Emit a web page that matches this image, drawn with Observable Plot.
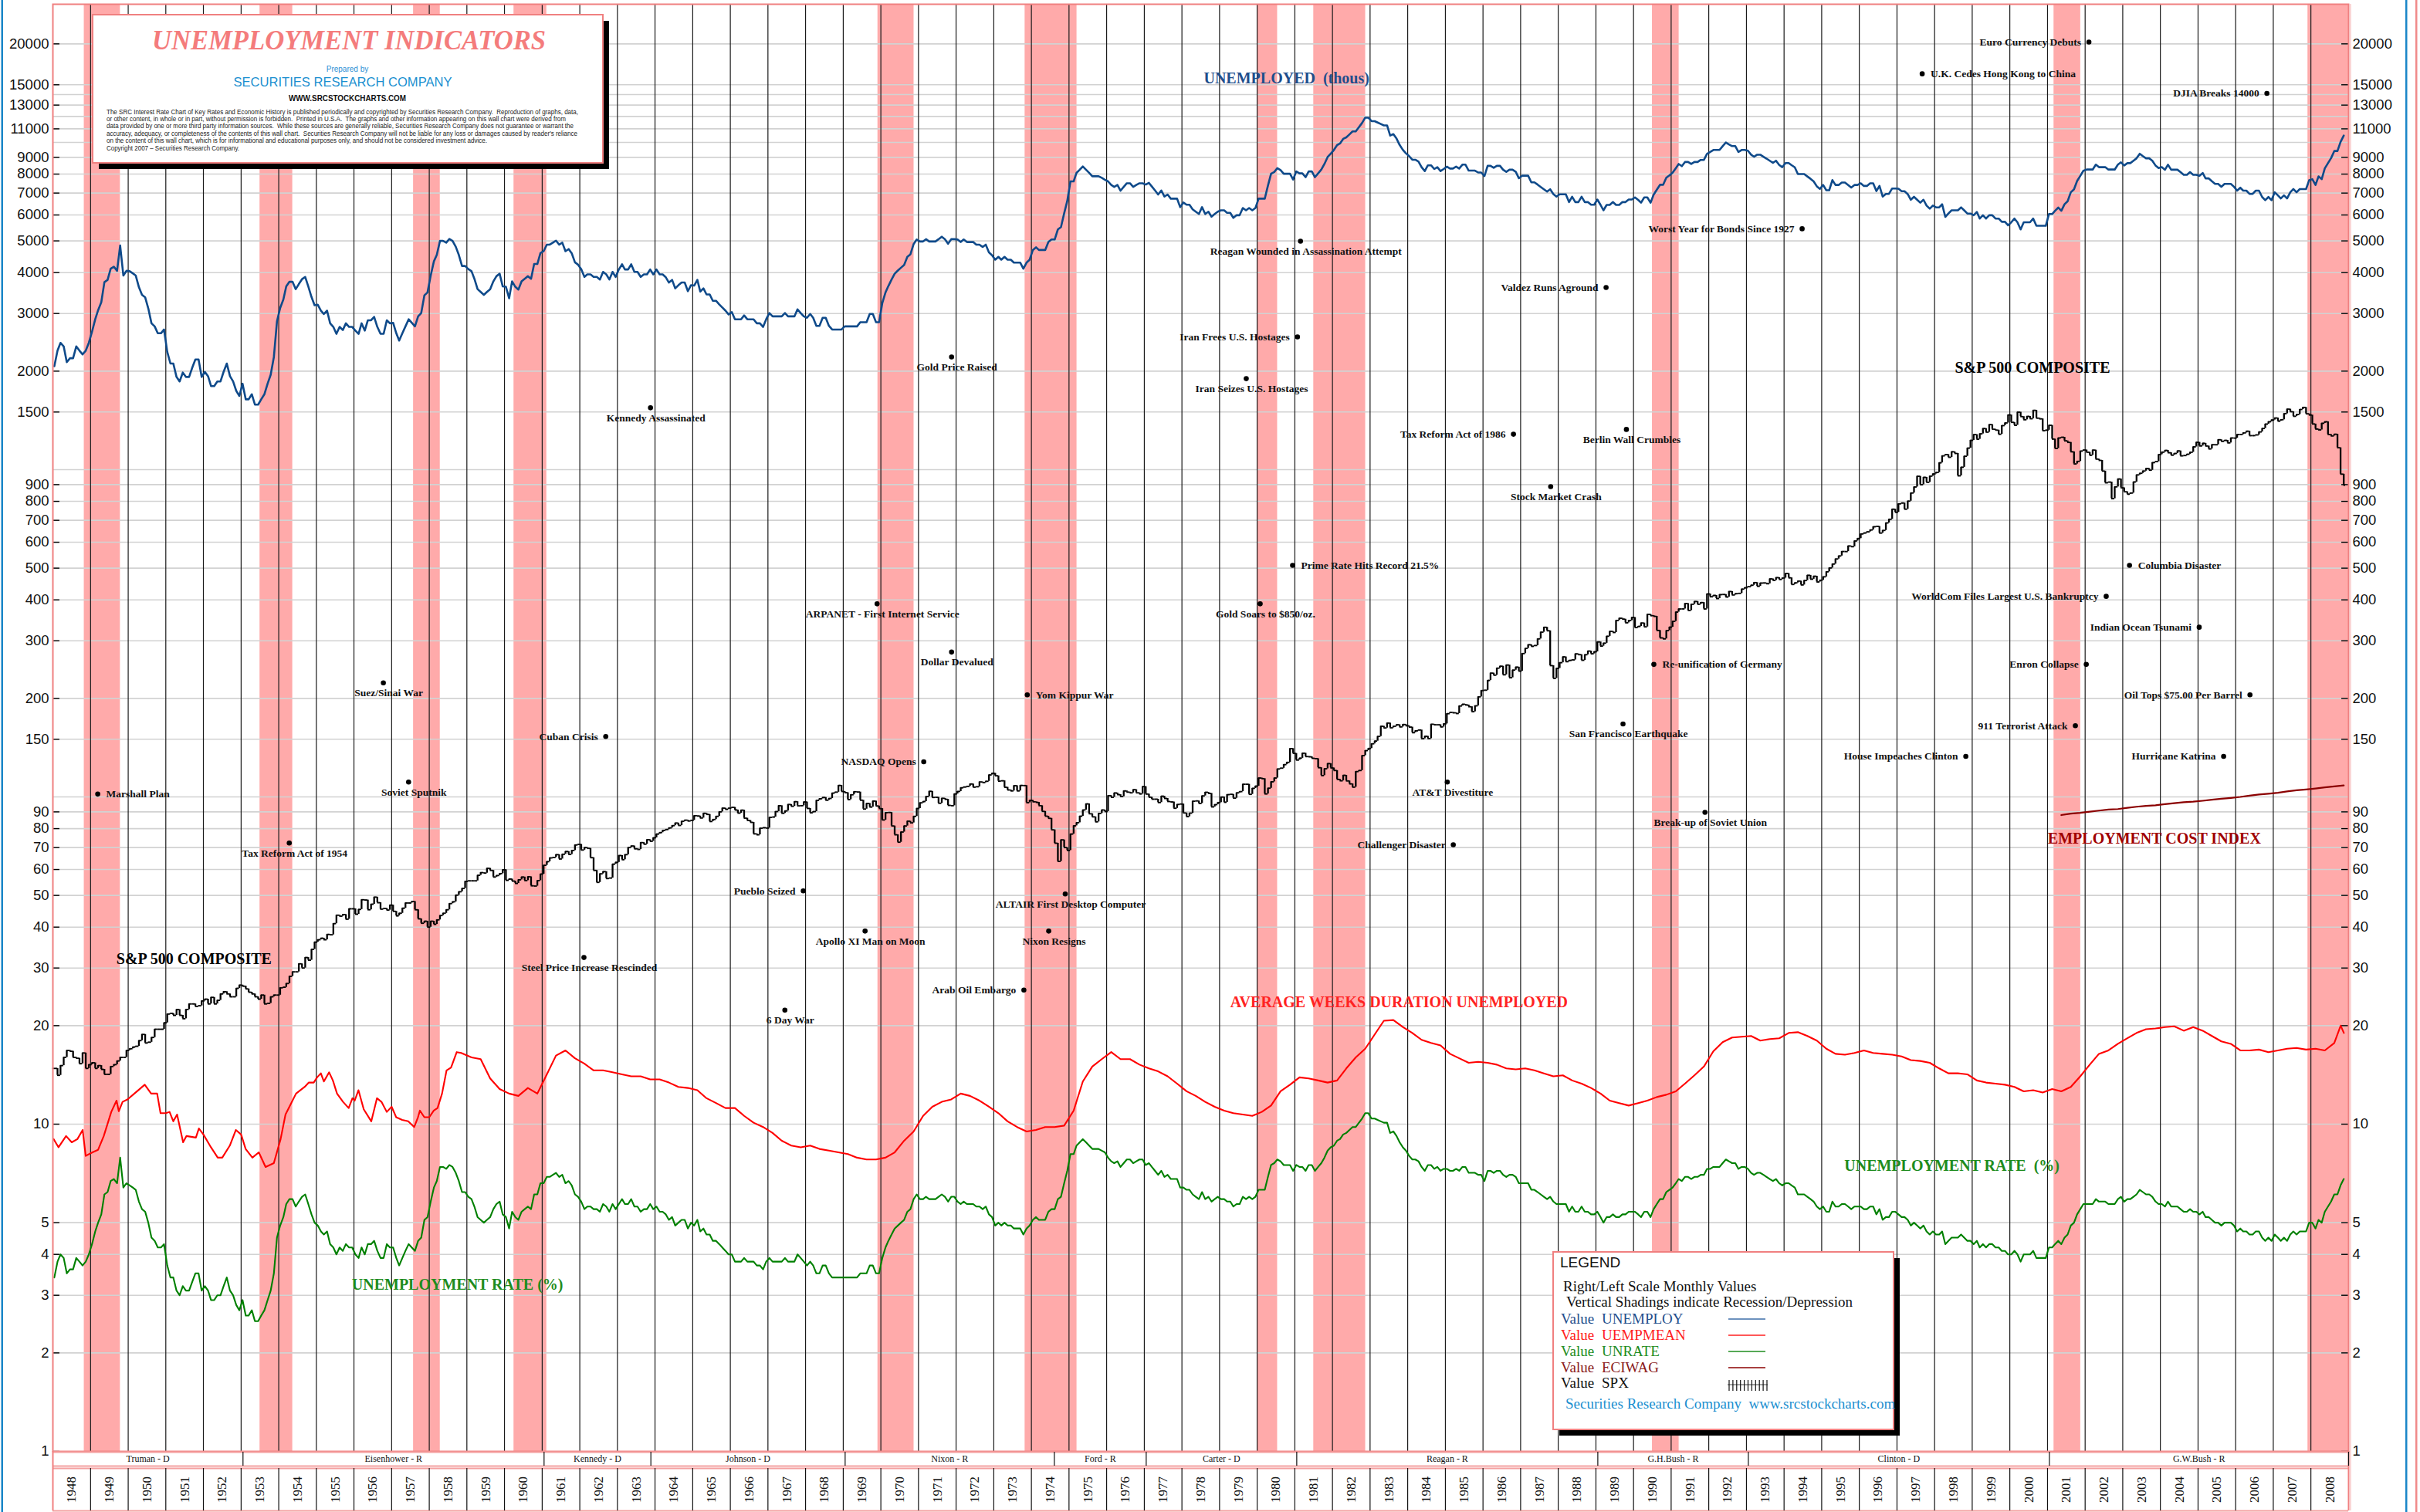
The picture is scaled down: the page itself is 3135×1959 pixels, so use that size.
<!DOCTYPE html>
<html><head><meta charset="utf-8">
<script src="https://cdn.jsdelivr.net/npm/d3@7"></script>
<script src="https://cdn.jsdelivr.net/npm/@observablehq/plot@0.6"></script>
<style>
html,body{margin:0;padding:0;background:#fff;}
#wrap{position:relative;width:3135px;height:1959px;overflow:hidden;background:#fff;}
#wrap svg{position:absolute;left:0;}
</style></head><body><div id="wrap"></div>
<script>
// ---------------- DATA ----------------
// Monthly unemployment rate (%), Jan 1948 .. Nov 2008
const unrate = [
3.4,3.8,4.0,3.9,3.5,3.6,3.6,3.9,3.8,3.7,3.8,4.0,
4.3,4.7,5.0,5.3,6.1,6.2,6.7,6.8,6.6,7.9,6.4,6.6,
6.5,6.4,6.3,5.8,5.5,5.4,5.0,4.5,4.4,4.2,4.2,4.3,
3.7,3.4,3.4,3.1,3.0,3.2,3.1,3.1,3.3,3.5,3.5,3.1,
3.2,3.1,2.9,2.9,3.0,3.0,3.2,3.4,3.1,3.0,2.8,2.7,
2.9,2.6,2.6,2.7,2.5,2.5,2.6,2.7,2.9,3.1,3.5,4.5,
4.9,5.2,5.7,5.9,5.9,5.6,5.8,6.0,6.1,5.7,5.3,5.0,
4.9,4.7,4.6,4.7,4.3,4.2,4.0,4.2,4.1,4.3,4.2,4.2,
4.0,3.9,4.2,4.0,4.3,4.3,4.4,4.1,3.9,3.9,4.3,4.2,
4.2,3.9,3.7,3.9,4.1,4.3,4.2,4.1,4.4,4.5,5.1,5.2,
5.8,6.4,6.7,7.4,7.4,7.3,7.5,7.4,7.1,6.7,6.2,6.2,
6.0,5.9,5.6,5.2,5.1,5.0,5.1,5.2,5.5,5.7,5.8,5.3,
5.2,4.8,5.4,5.2,5.1,5.4,5.5,5.6,5.5,6.1,6.1,6.6,
6.6,6.9,6.9,7.0,7.1,6.9,7.0,6.6,6.7,6.5,6.1,6.0,
5.8,5.5,5.6,5.6,5.5,5.5,5.4,5.7,5.6,5.4,5.7,5.5,
5.7,5.9,5.7,5.7,5.9,5.6,5.6,5.4,5.5,5.5,5.7,5.5,
5.6,5.4,5.4,5.3,5.1,5.2,4.9,5.0,5.1,5.1,4.8,5.0,
4.9,5.1,4.7,4.8,4.6,4.6,4.4,4.4,4.3,4.2,4.1,4.0,
4.0,3.8,3.8,3.8,3.9,3.8,3.8,3.8,3.7,3.7,3.6,3.8,
3.9,3.8,3.8,3.8,3.8,3.9,3.8,3.8,3.8,4.0,3.9,3.8,
3.7,3.8,3.7,3.5,3.5,3.7,3.7,3.5,3.4,3.4,3.4,3.4,
3.4,3.4,3.4,3.4,3.4,3.5,3.5,3.5,3.7,3.7,3.5,3.5,
3.9,4.2,4.4,4.6,4.8,4.9,5.0,5.1,5.4,5.5,5.9,6.1,
5.9,5.9,6.0,5.9,5.9,5.9,6.0,6.1,6.0,5.8,6.0,6.0,
5.8,5.7,5.8,5.7,5.7,5.7,5.6,5.6,5.5,5.6,5.3,5.2,
4.9,5.0,4.9,5.0,4.9,4.9,4.8,4.8,4.8,4.6,4.8,4.9,
5.1,5.2,5.1,5.1,5.1,5.4,5.5,5.5,5.9,6.0,6.6,7.2,
8.1,8.1,8.6,8.8,9.0,8.8,8.6,8.4,8.4,8.4,8.3,8.2,
7.9,7.7,7.6,7.7,7.4,7.6,7.8,7.8,7.6,7.7,7.8,7.8,
7.5,7.6,7.4,7.2,7.0,7.2,6.9,7.0,6.8,6.8,6.8,6.4,
6.4,6.3,6.3,6.1,6.0,5.9,6.2,5.9,6.0,5.8,5.9,6.0,
5.9,5.9,5.8,5.8,5.6,5.7,5.7,6.0,5.9,6.0,5.9,6.0,
6.3,6.3,6.3,6.9,7.5,7.6,7.8,7.7,7.5,7.5,7.5,7.2,
7.5,7.4,7.4,7.2,7.5,7.5,7.2,7.4,7.6,7.9,8.3,8.5,
8.6,8.9,9.0,9.3,9.4,9.6,9.8,9.8,10.1,10.4,10.8,10.8,
10.4,10.4,10.3,10.2,10.1,10.1,9.4,9.5,9.2,8.8,8.5,8.3,
8.0,7.8,7.8,7.7,7.4,7.2,7.5,7.5,7.3,7.4,7.2,7.3,
7.3,7.2,7.2,7.3,7.2,7.4,7.4,7.1,7.1,7.1,7.0,7.0,
6.7,7.2,7.2,7.1,7.2,7.2,7.0,6.9,7.0,7.0,6.9,6.6,
6.6,6.6,6.6,6.3,6.3,6.2,6.1,6.0,5.9,6.0,5.8,5.7,
5.7,5.7,5.7,5.4,5.6,5.4,5.4,5.6,5.4,5.4,5.3,5.3,
5.4,5.2,5.0,5.2,5.2,5.3,5.2,5.2,5.3,5.3,5.4,5.4,
5.4,5.3,5.2,5.4,5.4,5.2,5.5,5.7,5.9,5.9,6.2,6.3,
6.4,6.6,6.8,6.7,6.9,6.9,6.8,6.9,6.9,7.0,7.0,7.3,
7.3,7.4,7.4,7.4,7.6,7.8,7.7,7.6,7.6,7.3,7.4,7.4,
7.3,7.1,7.0,7.1,7.1,7.0,6.9,6.8,6.7,6.8,6.6,6.5,
6.6,6.6,6.5,6.4,6.1,6.1,6.1,6.0,5.9,5.8,5.6,5.5,
5.6,5.4,5.4,5.8,5.6,5.6,5.7,5.7,5.6,5.5,5.6,5.6,
5.6,5.5,5.5,5.6,5.6,5.3,5.5,5.1,5.2,5.2,5.4,5.4,
5.3,5.2,5.2,5.1,4.9,5.0,4.9,4.8,4.9,4.7,4.6,4.7,
4.6,4.6,4.7,4.3,4.4,4.5,4.5,4.5,4.6,4.5,4.4,4.4,
4.3,4.4,4.2,4.3,4.2,4.3,4.3,4.2,4.2,4.1,4.1,4.0,
4.0,4.1,4.0,3.8,4.0,4.0,4.0,4.1,3.9,3.9,3.9,3.9,
4.2,4.2,4.3,4.4,4.3,4.5,4.6,4.9,5.0,5.3,5.5,5.7,
5.7,5.7,5.7,5.9,5.8,5.8,5.8,5.7,5.7,5.7,5.9,6.0,
5.8,5.9,5.9,6.0,6.1,6.3,6.2,6.1,6.1,6.0,5.8,5.7,
5.7,5.6,5.8,5.6,5.6,5.6,5.5,5.4,5.4,5.5,5.4,5.4,
5.3,5.4,5.2,5.2,5.1,5.0,5.0,4.9,5.0,5.0,5.0,4.9,
4.7,4.8,4.7,4.7,4.6,4.6,4.7,4.7,4.5,4.4,4.5,4.4,
4.6,4.5,4.4,4.5,4.4,4.6,4.7,4.6,4.7,4.7,4.7,5.0,
5.0,4.8,5.1,5.0,5.4,5.6,5.8,6.1,6.1,6.5,6.8
];
// Monthly number unemployed (thousands), Jan 1948 .. Nov 2008
const unemploy = [
2070,2310,2440,2380,2130,2190,2190,2380,2310,2250,2310,2440,
2640,2880,3070,3250,3740,3800,4110,4170,4050,4840,3920,4050,
4040,3980,3920,3610,3420,3360,3110,2800,2740,2610,2610,2680,
2290,2110,2110,1920,1860,1980,1920,1920,2050,2170,2170,1920,
1990,1930,1800,1800,1860,1860,1990,2110,1930,1860,1740,1680,
1830,1640,1640,1700,1580,1580,1640,1700,1830,1950,2210,2840,
3120,3310,3630,3750,3750,3560,3690,3820,3880,3630,3370,3180,
3190,3060,2990,3060,2800,2730,2600,2730,2670,2800,2730,2730,
2660,2600,2800,2660,2860,2860,2930,2730,2600,2600,2860,2800,
2810,2610,2480,2610,2740,2880,2810,2740,2940,3010,3410,3480,
3920,4330,4530,5000,5000,4940,5070,5000,4800,4530,4190,4190,
4100,4040,3830,3560,3490,3420,3490,3560,3760,3900,3970,3630,
3620,3340,3760,3620,3550,3760,3830,3900,3830,4250,4250,4590,
4650,4870,4870,4940,5010,4870,4940,4650,4720,4580,4300,4230,
4100,3880,3950,3950,3880,3880,3810,4020,3950,3810,4020,3880,
4090,4240,4090,4090,4240,4020,4020,3880,3950,3950,4090,3950,
4090,3950,3950,3870,3730,3800,3580,3660,3730,3730,3510,3660,
3650,3800,3500,3580,3430,3430,3280,3280,3200,3130,3060,2980,
3030,2880,2880,2880,2960,2880,2880,2880,2800,2800,2730,2880,
3010,2940,2940,2940,2940,3010,2940,2940,2940,3090,3010,2940,
2910,2990,2910,2750,2750,2910,2910,2750,2680,2680,2680,2680,
2740,2740,2740,2740,2740,2820,2820,2820,2990,2990,2820,2820,
3230,3480,3640,3810,3970,4060,4140,4220,4470,4550,4890,5050,
4980,4980,5060,4980,4980,4980,5060,5150,5060,4900,5060,5060,
5050,4960,5050,4960,4960,4960,4870,4870,4790,4870,4610,4520,
4380,4470,4380,4470,4380,4380,4290,4290,4290,4110,4290,4380,
4690,4780,4690,4690,4690,4960,5050,5050,5420,5510,6070,6620,
7600,7600,8070,8250,8440,8250,8070,7880,7880,7880,7790,7690,
7600,7410,7310,7410,7120,7310,7500,7500,7310,7410,7500,7500,
7430,7520,7330,7130,6930,7130,6830,6930,6730,6730,6730,6340,
6550,6450,6450,6240,6140,6040,6340,6040,6140,5930,6040,6140,
6200,6200,6090,6090,5880,5990,5990,6300,6200,6300,6200,6300,
6730,6730,6730,7380,8020,8120,8340,8230,8020,8020,8020,7700,
8150,8040,8040,7830,8150,8150,7830,8040,8260,8590,9020,9240,
9480,9810,9920,10250,10360,10580,10800,10800,11130,11460,11900,11900,
11610,11610,11500,11380,11270,11270,10490,10600,10270,9820,9490,9260,
9080,8850,8850,8740,8400,8170,8510,8510,8290,8400,8170,8290,
8430,8320,8320,8430,8320,8550,8550,8200,8200,8200,8090,8090,
7890,8480,8480,8360,8480,8480,8250,8130,8250,8250,8130,7770,
7910,7910,7910,7550,7550,7430,7310,7190,7070,7190,6950,6830,
6940,6940,6940,6570,6820,6570,6570,6820,6570,6570,6450,6450,
6690,6440,6200,6440,6440,6570,6440,6440,6570,6570,6690,6690,
6790,6670,6540,6790,6790,6540,6920,7170,7420,7420,7800,7930,
8080,8340,8590,8460,8710,8710,8590,8710,8710,8840,8840,9220,
9350,9480,9480,9480,9740,9990,9860,9740,9740,9350,9480,9480,
9430,9170,9040,9170,9170,9040,8920,8790,8660,8790,8530,8400,
8650,8650,8520,8390,8000,8000,8000,7870,7740,7600,7340,7210,
7410,7140,7140,7670,7410,7410,7540,7540,7410,7280,7410,7410,
7500,7360,7360,7500,7500,7100,7360,6830,6960,6960,7230,7230,
7220,7090,7090,6950,6680,6820,6680,6540,6680,6410,6270,6410,
6330,6330,6470,5920,6060,6200,6200,6200,6330,6200,6060,6060,
5990,6130,5850,5990,5850,5990,5990,5850,5850,5720,5720,5580,
5700,5850,5700,5420,5700,5700,5700,5850,5560,5560,5560,5560,
6040,6040,6180,6320,6180,6470,6610,7040,7190,7620,7900,8190,
8260,8260,8260,8550,8400,8400,8400,8260,8260,8260,8550,8690,
8500,8640,8640,8790,8940,9230,9080,8940,8940,8790,8500,8350,
8400,8250,8550,8250,8250,8250,8110,7960,7960,8110,7960,7960,
7910,8060,7760,7760,7610,7470,7470,7320,7470,7470,7470,7320,
7120,7270,7120,7120,6960,6960,7120,7120,6810,6660,6810,6660,
7040,6890,6740,6890,6740,7040,7200,7040,7200,7200,7200,7660,
7720,7410,7870,7720,8330,8640,8950,9410,9410,10030,10490
];
// S&P 500 monthly closes, Jan 1948 .. Nov 2008
const spx = [
14.8,14.1,15.1,16.0,16.8,16.7,16.0,15.9,15.3,16.5,14.8,15.2,
15.4,14.8,15.1,14.7,14.2,14.2,15.0,15.2,15.6,16.0,16.0,16.8,
17.0,17.2,17.3,18.0,18.8,17.7,17.8,18.4,19.5,19.5,19.5,20.4,
21.7,21.8,21.5,22.4,21.5,21.0,22.4,23.3,23.3,22.9,23.0,23.8,
24.1,23.3,24.4,23.3,23.9,25.0,25.4,25.0,24.5,24.5,26.0,26.6,
26.4,25.9,25.3,25.0,24.5,24.1,24.8,23.3,23.4,24.5,24.8,24.8,
26.1,26.2,26.9,28.3,29.2,29.2,30.9,30.0,32.3,31.7,34.2,36.0,
36.6,37.0,36.6,38.0,37.9,41.0,43.5,43.2,43.7,42.3,45.5,45.5,
43.8,45.3,48.5,48.4,45.2,47.0,49.4,47.5,45.4,45.6,45.1,46.7,
44.7,43.3,44.1,45.7,47.4,47.4,47.9,45.2,42.4,41.1,41.7,40.0,
41.7,40.8,42.1,43.4,44.1,45.2,47.2,47.8,50.1,51.3,52.5,55.2,
55.4,55.4,55.4,57.6,58.7,58.5,60.5,59.6,56.9,57.5,58.3,59.9,
55.6,56.1,55.3,54.4,55.8,56.9,55.5,57.0,53.5,53.4,55.5,58.1,
61.8,63.4,65.1,65.3,66.6,64.6,66.8,68.1,66.7,68.6,71.3,71.6,
68.8,70.0,69.6,65.2,59.6,54.8,58.2,59.1,56.3,56.5,62.3,63.1,
66.2,64.3,66.6,70.0,70.8,69.4,69.1,72.5,71.7,74.0,73.2,75.0,
77.0,77.8,79.0,79.5,80.4,81.7,83.2,81.8,84.2,84.9,84.4,84.8,
87.6,87.4,86.2,89.1,88.4,84.1,85.3,87.2,90.0,92.4,91.6,92.4,
92.9,91.2,89.2,91.1,86.1,84.7,83.6,77.1,76.6,80.2,80.5,80.3,
86.6,86.8,90.2,94.0,89.1,90.6,94.8,93.6,96.7,93.9,94.0,96.5,
92.2,89.4,90.2,97.6,98.7,99.6,97.7,98.9,102.7,103.4,108.4,103.9,
103.0,98.1,101.5,103.7,103.5,97.7,91.8,95.5,93.1,97.1,93.8,92.1,
85.0,89.5,89.6,81.5,76.6,72.7,78.1,81.5,84.3,83.3,87.2,92.2,
95.9,96.8,100.3,104.0,99.6,99.7,95.6,99.0,98.3,94.2,94.0,102.1,
103.9,106.6,107.2,107.7,109.5,107.1,107.4,111.1,110.6,111.6,116.7,118.1,
116.0,111.7,112.0,107.0,105.0,104.3,108.2,104.3,108.4,108.3,96.0,97.6,
96.6,96.2,94.0,90.3,87.3,86.0,79.3,72.2,63.5,73.9,70.0,68.6,
77.0,81.6,83.4,87.3,91.2,95.2,88.8,86.9,83.9,89.0,91.2,90.2,
100.9,99.7,102.8,101.6,100.2,104.3,103.4,102.9,105.2,102.9,102.1,107.5,
102.0,99.8,98.4,98.4,96.1,100.5,98.9,96.8,96.5,92.3,94.8,95.1,
89.3,87.0,89.2,97.0,97.2,95.5,100.7,103.3,102.5,93.2,94.7,96.1,
99.9,96.3,101.6,101.8,99.1,102.9,103.8,109.3,109.3,101.8,106.2,107.9,
114.2,113.7,102.1,106.3,111.2,114.2,121.7,122.4,125.5,127.5,140.5,135.8,
129.6,131.3,136.0,132.8,132.6,131.2,130.9,122.8,116.2,121.9,126.4,122.6,
120.4,113.1,112.0,116.4,111.9,109.6,107.1,119.5,120.4,133.7,138.5,140.6,
145.3,148.1,153.0,164.4,162.4,168.1,162.6,164.4,166.1,163.6,166.4,164.9,
163.4,157.1,159.2,160.1,150.6,153.2,150.7,166.7,166.1,166.1,163.6,167.2,
179.6,181.2,180.7,179.8,189.6,191.9,190.9,188.6,182.1,189.8,202.2,211.3,
211.8,226.9,238.9,235.5,247.4,250.8,236.1,252.9,231.3,244.0,249.2,242.2,
274.1,284.2,291.7,288.4,290.1,304.0,318.7,329.8,321.8,251.8,230.3,247.1,
257.1,267.8,258.9,261.3,262.2,273.5,272.0,261.5,271.9,279.0,273.7,277.7,
297.5,288.9,294.9,309.6,320.5,318.0,346.1,351.5,349.2,340.4,346.0,353.4,
329.1,331.9,339.9,330.8,361.2,358.0,356.2,322.6,306.1,304.0,322.2,330.2,
343.9,367.1,375.2,375.3,389.8,371.2,387.8,395.4,387.9,392.5,375.2,417.1,
408.8,412.7,403.7,415.0,415.4,408.1,424.2,414.0,417.8,418.7,431.4,435.7,
438.8,443.4,451.7,440.2,450.2,450.5,448.1,463.6,458.9,467.8,461.8,466.5,
481.6,467.1,445.8,450.9,456.5,444.3,458.3,475.5,462.7,472.4,453.7,459.3,
470.4,487.4,500.7,514.7,533.4,544.8,562.1,561.9,584.4,581.5,605.4,615.9,
636.0,640.4,645.5,654.2,669.1,670.6,639.9,652.0,687.3,705.3,757.0,740.7,
786.2,790.8,757.1,801.3,848.3,885.1,954.3,899.5,947.3,914.6,955.4,970.4,
980.3,1049.3,1101.8,1111.8,1090.8,1133.8,1120.7,957.3,1017.0,1098.7,1163.6,1229.2,
1279.6,1238.3,1286.4,1335.2,1301.8,1372.7,1328.7,1320.4,1282.7,1362.9,1388.9,1469.3,
1394.5,1366.4,1498.6,1452.4,1420.6,1454.6,1430.8,1517.7,1436.5,1429.4,1315.2,1320.3,
1366.0,1239.9,1160.3,1249.5,1255.8,1224.4,1211.2,1133.6,1040.9,1059.8,1139.5,1148.1,
1130.2,1106.7,1147.4,1076.9,1067.1,989.8,911.6,916.1,815.3,885.8,936.3,879.8,
855.7,841.2,848.2,916.9,963.6,974.5,990.3,1008.0,996.0,1050.7,1058.2,1111.9,
1131.1,1144.9,1126.2,1107.3,1120.7,1140.8,1101.7,1104.2,1114.6,1130.2,1173.8,1211.9,
1181.3,1203.6,1180.6,1156.9,1191.5,1191.3,1234.2,1220.3,1228.8,1207.0,1249.5,1248.3,
1280.1,1280.7,1294.9,1310.6,1270.1,1270.2,1276.7,1303.8,1335.9,1377.9,1400.6,1418.3,
1438.2,1406.8,1420.9,1482.4,1530.6,1503.4,1455.3,1474.0,1526.8,1549.4,1481.1,1468.4,
1378.6,1330.6,1322.7,1385.6,1400.4,1280.0,1267.4,1282.8,1166.4,968.8,896.2
];
// Average weeks duration of unemployment: [year, value]
const uempmeanEarly = [
[1948.02,9.0],[1948.15,8.5],[1948.35,9.2],[1948.5,8.8],[1948.65,9.0],[1948.79,9.6],[1948.87,8.0],
[1949.05,8.2],[1949.2,8.35],[1949.35,9.2],[1949.55,10.9],[1949.69,11.8],[1949.75,10.95],[1949.85,11.7],[1949.98,11.9],
[1950.2,12.5],[1950.44,13.2],[1950.61,12.4],[1950.77,12.4],[1950.86,10.8],[1951.0,10.8],[1951.1,10.9],[1951.2,10.2],
[1951.3,10.7],[1951.46,8.8],[1951.55,9.2],[1951.8,9.1],[1951.88,9.7],[1952.0,9.3],[1952.2,8.5],[1952.38,7.9],
[1952.5,7.9],[1952.7,8.6],[1952.86,9.6],[1953.0,9.3],[1953.12,8.4],[1953.3,7.9],[1953.47,8.2],[1953.65,7.4],
[1953.87,7.6],[1954.05,9.0],[1954.18,10.7],[1954.25,11.1],[1954.46,12.4],[1954.69,13.0],[1954.8,13.4],[1954.93,13.4],
[1955.02,13.9],[1955.12,14.3],[1955.2,13.5],[1955.34,14.4],[1955.44,13.6],[1955.55,12.4],[1955.71,11.7],[1955.86,11.2],
[1955.96,12.0],[1956.02,11.8],[1956.12,12.7],[1956.26,11.1],[1956.46,10.2],[1956.61,12.0],[1956.73,11.7],[1956.87,10.9],
[1957.0,11.3],[1957.12,10.5],[1957.28,10.3],[1957.44,10.2],[1957.6,9.8],[1957.7,10.5],[1957.75,11.0],[1957.87,10.5],
[1958.0,10.5],[1958.12,11.0],[1958.22,11.2],[1958.34,12.4],[1958.46,14.6],[1958.58,14.9],[1958.73,16.6],[1958.85,16.5]
];
// Quarterly from 1959 Q1 to 2008 Q3
const uempmeanQuarterly = [
16.0,15.8,13.8,12.8, 12.4,12.2,12.9,12.4, 14.2,16.2,16.8,15.9, 15.3,14.6,14.6,14.4,
14.2,14.0,14.0,13.7, 13.7,13.4,13.0,12.9, 12.7,12.0,11.6,11.2, 11.2,10.6,10.1,9.8,
9.4,8.9,8.6,8.5, 8.6,8.4,8.3,8.2, 8.1,7.9,7.8,7.8, 7.9,8.2,8.9,9.5,
10.6,11.3,11.7,11.9, 12.4,12.2,11.8,11.3, 10.8,10.2,9.8,9.5, 9.6,9.8,9.8,9.9,
11.0,13.5,15.0,15.8, 16.6,15.8,15.8,15.2, 14.8,14.5,14.0,13.3, 12.6,12.2,11.7,11.3,
11.0,10.8,10.7,10.6, 10.9,11.4,12.6,13.2, 13.9,13.8,13.6,13.4, 13.6,14.8,16.0,17.0,
18.8,20.7,20.8,19.8, 19.0,18.1,17.7,17.4, 16.4,15.9,15.4,15.5, 15.4,15.2,14.8,14.7,
14.8,14.6,14.3,14.0, 14.1,13.6,13.3,12.9, 12.4,11.8,11.6,11.4, 11.6,11.8,12.1,12.3,
12.6,13.3,14.1,15.0, 16.7,17.8,18.4,18.5, 18.6,18.0,18.2,18.3, 19.0,19.1,18.6,18.0,
17.0,16.4,16.3,16.5, 16.8,16.5,16.4,16.3, 16.1,15.7,15.6,15.4, 14.8,14.3,14.3,14.2,
13.6,13.4,13.3,13.2, 13.0,12.6,12.7,12.5, 12.8,12.6,13.0,14.0, 15.2,16.4,16.8,17.6,
18.3,19.0,19.5,19.6, 19.8,19.9,19.3,19.8, 19.3,18.6,17.9,17.6, 16.8,16.8,16.9,16.6,
16.8,17.0,17.1,16.9, 17.0,16.8,17.7
];
const uempmeanEnd = [[2008.79,20.0],[2008.875,19.0]];
// Employment cost index (wages), quarterly from 2001 Q2 to 2008 Q4
const eciwag = [
88.0,88.9,89.4, 90.1,90.8,91.5,91.8, 92.6,93.3,93.9,94.3, 95.0,95.7,96.3,96.7,
97.3,98.0,98.7,99.3, 100.0,100.9,101.7,102.3, 103.0,103.9,104.8,105.4, 106.1,106.9,107.7,108.4
];
// Recessions [start, end] (fractional years)
const recessions = [[1948.83,1949.79],[1953.5,1954.37],[1957.58,1958.29],[1960.25,1961.12],
 [1969.92,1970.88],[1973.83,1975.21],[1980.0,1980.54],[1981.5,1982.88],[1990.5,1991.21],
 [2001.17,2001.88],[2007.92,2009.0]];
// Presidents
const presidents = ["Truman - D","Eisenhower - R","Kennedy - D","Johnson - D","Nixon - R","Ford - R",
 "Carter - D","Reagan - R","G.H.Bush - R","Clinton - D","G.W.Bush - R"];
const presidentStarts = [1948.0,1953.05,1961.05,1963.89,1969.05,1974.61,1977.05,1981.05,1989.05,1993.05,2001.05,2009.0];
const years = d3.range(1948, 2009);
// Axis tick labels and grid lines
const tickLabels = [1,2,3,4,5,10,20,30,40,50,60,70,80,90,150,200,300,400,500,600,700,800,900,
 1500,2000,3000,4000,5000,6000,7000,8000,9000,11000,13000,15000,20000];
const gridValues = [2,3,4,5,10,20,30,40,50,60,70,80,90,100,150,200,300,400,500,600,700,800,900,1000,
 1500,2000,3000,4000,5000,6000,7000,8000,9000,10000,11000,12000,13000,14000,15000,20000];
// Events: [label, year, value, placement]
const events = [
["Marshall Plan",1949.19,102,"right"],
["Tax Reform Act of 1954",1954.28,72.3,"below"],
["Soviet Sputnik",1957.45,111,"below"],
["Suez/Sinai War",1956.78,223,"below"],
["Kennedy Assassinated",1963.88,1545,"below"],
["Cuban Crisis",1962.69,153,"left"],
["Steel Price Increase Rescinded",1962.11,32.3,"below"],
["Pueblo Seized",1967.94,51.6,"left"],
["6 Day War",1967.45,22.3,"below"],
["Apollo XI Man on Moon",1969.58,38.9,"below"],
["NASDAQ Opens",1971.14,128,"left"],
["ARPANET - First Internet Service",1969.9,389,"below"],
["Gold Price Raised",1971.88,2209,"below"],
["Dollar Devalued",1971.88,277,"below"],
["Yom Kippur War",1973.89,205,"right"],
["Arab Oil Embargo",1973.8,25.7,"left"],
["ALTAIR First Desktop Computer",1974.9,50.5,"below"],
["Nixon Resigns",1974.46,38.9,"below"],
["Reagan Wounded in Assassination Attempt",1981.15,4990,"below"],
["Iran Frees U.S. Hostages",1981.07,2545,"left"],
["Iran Seizes U.S. Hostages",1979.71,1897,"below"],
["Prime Rate Hits Record 21.5%",1980.94,510,"right"],
["Gold Soars to $850/oz.",1980.08,389,"below"],
["Valdez Runs Aground",1989.27,3603,"left"],
["Worst Year for Bonds Since 1927",1994.48,5446,"left"],
["Tax Reform Act of 1986",1986.81,1283,"left"],
["Berlin Wall Crumbles",1989.81,1327,"below"],
["Stock Market Crash",1987.8,887,"below"],
["Re-unification of Germany",1990.54,254,"right"],
["San Francisco Earthquake",1989.72,167,"below"],
["AT&T Divestiture",1985.05,111,"below"],
["Challenger Disaster",1985.21,71.4,"left"],
["Break-up of Soviet Union",1991.9,89.7,"below"],
["Euro Currency Debuts",2002.1,20250,"left"],
["U.K. Cedes Hong Kong to China",1997.67,16200,"right"],
["DJIA Breaks 14000",2006.83,14120,"left"],
["Columbia Disaster",2003.18,510,"right"],
["WorldCom Files Largest U.S. Bankruptcy",2002.56,410,"left"],
["Indian Ocean Tsunami",2005.03,330,"left"],
["Enron Collapse",2002.03,254,"left"],
["Oil Tops $75.00 Per Barrel",2006.38,205,"left"],
["911 Terrorist Attack",2001.74,165,"left"],
["House Impeaches Clinton",1998.83,133,"left"],
["Hurricane Katrina",2005.68,133,"left"]
];
// Series labels: [text, year, value, color]
const seriesLabels = [
["UNEMPLOYED\u00a0\u00a0(thous)",1980.78,15700,"#1f4e8c"],
["S&P 500 COMPOSITE",1951.75,32.0,"#000000"],
["S&P 500 COMPOSITE",2000.6,2048,"#000000"],
["AVERAGE WEEKS DURATION UNEMPLOYED",1983.77,23.6,"#ff2222"],
["UNEMPLOYMENT RATE (%)",1958.75,3.23,"#1e8c1e"],
["UNEMPLOYMENT RATE\u00a0\u00a0(%)",1998.46,7.46,"#1e8c1e"],
["EMPLOYMENT COST INDEX",2003.84,74.6,"#a00000"]
];

// ---------------- HELPERS ----------------
if (unrate.length !== 731 || unemploy.length !== 731 || spx.length !== 731)
  throw new Error(`lengths ${unrate.length} ${unemploy.length} ${spx.length}`);
const fy = t => { const y = Math.floor(t), s = Date.UTC(y,0,1), e = Date.UTC(y+1,0,1); return new Date(s + (t-y)*(e-s)); };
const month = i => new Date(Date.UTC(1948, i, 15));
const DAY = 864e5;

const W = 3135, H = 1959, ML = 68, MR = 93, MT = 5, MB = 79;
const xDomain = [new Date(Date.UTC(1948,0,1)), new Date(Date.UTC(2009,0,1))];
const SERIF = "Liberation Serif, Times New Roman, serif";
const SANS = "Liberation Sans, Arial, sans-serif";

const unrateData = unrate.map((v,i)=>({date: month(i), v}));
const unemployData = unemploy.map((v,i)=>({date: month(i), v}));
const spxData = spx.map((c,i)=>{ const o = i ? spx[i-1] : c; return {date: month(i), open: o, close: c, lo: Math.min(o,c), hi: Math.max(o,c)}; });
const uempData = [
  ...uempmeanEarly.map(([t,v])=>({date: fy(t), v})),
  ...uempmeanQuarterly.map((v,i)=>({date: new Date(Date.UTC(1959, 1 + 3*i, 15)), v})),
  ...uempmeanEnd.map(([t,v])=>({date: fy(t), v}))
];
const eciData = eciwag.map((v,i)=>({date: new Date(Date.UTC(2001, 4 + 3*i, 15)), v}));
const ev = events.map(([label,t,v,pos])=>({label, date: fy(t), v, pos}));
const tickLen = 67 * DAY; // ~9px

const main = Plot.plot({
  width: W, height: H, marginLeft: ML, marginRight: MR, marginTop: MT, marginBottom: MB,
  x: {type: "utc", domain: xDomain, axis: null},
  y: {type: "log", domain: [1, 26430], axis: null},
  color: {type: "identity"},
  style: {background: "transparent", overflow: "visible"},
  marks: [
    Plot.rect(recessions, {x1: d=>fy(d[0]), x2: d=>fy(d[1]), y1: 1, y2: 26430, fill: "#ffaaaa"}),
    Plot.ruleY(gridValues, {stroke: "#d2d2d2", strokeWidth: 1.6}),
    Plot.ruleX(years.slice(1), {x: d=>new Date(Date.UTC(d,0,1)), stroke: "#1a1a1a", strokeWidth: 1.2}),
    Plot.ruleY(tickLabels, {y: d=>d, x1: ()=>xDomain[0], x2: ()=>new Date(+xDomain[0] + tickLen), stroke: "#000", strokeWidth: 1.4}),
    Plot.ruleY(tickLabels, {y: d=>d, x1: ()=>new Date(+xDomain[1] - tickLen), x2: ()=>xDomain[1], stroke: "#000", strokeWidth: 1.4}),
    Plot.axisY(tickLabels, {anchor: "left", tickSize: 0, tickPadding: 5, label: null, tickFormat: d=>String(d), fontSize: 18.5, fontFamily: SANS, fill: "#111"}),
    Plot.axisY(tickLabels, {anchor: "right", tickSize: 0, tickPadding: 5, label: null, tickFormat: d=>String(d), fontSize: 18.5, fontFamily: SANS, fill: "#111"}),
    // data
    Plot.line(unemployData, {x: "date", y: "v", stroke: "#0f4a8a", strokeWidth: 2.6}),
    Plot.line(uempData, {x: "date", y: "v", stroke: "#ff0000", strokeWidth: 2.1}),
    Plot.line(unrateData, {x: "date", y: "v", stroke: "#008000", strokeWidth: 2.1}),
    Plot.line(eciData, {x: "date", y: "v", stroke: "#8b0000", strokeWidth: 2.2}),
    Plot.ruleX(spxData, {x: "date", y1: "lo", y2: "hi", stroke: "#000", strokeWidth: 2.3}),
    Plot.ruleY(spxData, {y: "open", x1: d=>new Date(+d.date - 17*DAY), x2: "date", stroke: "#000", strokeWidth: 1.8}),
    Plot.ruleY(spxData, {y: "close", x1: "date", x2: d=>new Date(+d.date + 17*DAY), stroke: "#000", strokeWidth: 1.8}),
    // events
    Plot.dot(ev, {x: "date", y: "v", r: 3.3, fill: "#000", stroke: null}),
    Plot.text(ev.filter(d=>d.pos==="right"), {x: "date", y: "v", text: "label", textAnchor: "start", dx: 11, fontFamily: SERIF, fontWeight: "bold", fontSize: 13.5, fill: "#111"}),
    Plot.text(ev.filter(d=>d.pos==="left"), {x: "date", y: "v", text: "label", textAnchor: "end", dx: -10, fontFamily: SERIF, fontWeight: "bold", fontSize: 13.5, fill: "#111"}),
    Plot.text(ev.filter(d=>d.pos==="below"), {x: "date", y: "v", text: "label", textAnchor: "middle", dx: 7, dy: 13, fontFamily: SERIF, fontWeight: "bold", fontSize: 13.5, fill: "#111"}),
    // series labels
    Plot.text(seriesLabels, {x: d=>fy(d[1]), y: d=>d[2], text: d=>d[0], fill: d=>d[3], fontFamily: SERIF, fontWeight: "bold", fontSize: 20}),
    Plot.frame({stroke: "#f08080", strokeWidth: 2})
  ]
});
main.style.top = "0px";
document.getElementById("wrap").appendChild(main);

// ---------------- bottom strip: presidents & years ----------------
const S = {presTop: 1, presBottom: 19, yearTop: 22, yearBottom: 77};
const presData = presidents.map((p,i)=>({name: p, a: fy(presidentStarts[i]), b: fy(presidentStarts[i+1])}));
const strip = Plot.plot({
  width: W, height: 79, marginLeft: ML, marginRight: MR, marginTop: 0, marginBottom: 0,
  x: {type: "utc", domain: xDomain, axis: null},
  y: {domain: [0, 79], range: [0, 79], axis: null},
  style: {background: "transparent", overflow: "visible"},
  marks: [
    Plot.ruleY([S.presTop, S.presBottom, S.yearTop, S.yearBottom], {y: d=>d, stroke: "#f4a0a0", strokeWidth: 2}),
    Plot.ruleX(xDomain, {x: d=>d, y1: 0, y2: S.yearBottom, stroke: "#f08080", strokeWidth: 2}),
    Plot.ruleX(presidentStarts.slice(1), {x: d=>fy(d), y1: S.presTop, y2: S.presBottom, stroke: "#111", strokeWidth: 1.2}),
    Plot.ruleX(years.slice(1), {x: d=>new Date(Date.UTC(d,0,1)), y1: S.yearTop, y2: S.yearBottom, stroke: "#111", strokeWidth: 1.2}),
    Plot.text(presData, {x: d=>new Date((+d.a + +d.b)/2), y: (S.presTop+S.presBottom)/2, text: "name", fontFamily: SERIF, fontSize: 12, fill: "#111"}),
    Plot.text(years, {x: d=>new Date(Date.UTC(d,6,2)), y: (S.yearTop+S.yearBottom)/2, text: d=>String(d), rotate: -90, fontFamily: SERIF, fontSize: 17, fill: "#111"})
  ]
});
strip.style.top = (H - MB) + "px";
document.getElementById("wrap").appendChild(strip);

// ---------------- overlays: page border, title box, legend box ----------------
const ov = d3.select("#wrap").append("svg").attr("width", W).attr("height", H).style("top","0px").style("pointer-events","none");
ov.append("rect").attr("x",1.5).attr("y",0).attr("width",2.5).attr("height",H).attr("fill","#1a86c8");
ov.append("rect").attr("x",3116).attr("y",0).attr("width",2.5).attr("height",H).attr("fill","#1a86c8");
ov.append("rect").attr("x",3129).attr("y",0).attr("width",2.5).attr("height",H).attr("fill","#f08a8a");
ov.append("line").attr("x1",3045).attr("x2",3045).attr("y1",MT).attr("y2",H-2).attr("stroke","#f8c8c8").attr("stroke-width",1.5);

// title box
const tb = {x: 120, y: 19, w: 661, h: 192};
ov.append("rect").attr("x",tb.x+8).attr("y",tb.y+8).attr("width",tb.w).attr("height",tb.h).attr("fill","#000");
ov.append("rect").attr("x",tb.x).attr("y",tb.y).attr("width",tb.w).attr("height",tb.h).attr("fill","#fff").attr("stroke","#f08080").attr("stroke-width",2);
const T = (x,y,txt,o) => {
  const t = ov.append("text").attr("x",x).attr("y",y).text(txt)
    .attr("font-family", o.family||SANS).attr("font-size", o.size).attr("fill", o.fill||"#111")
    .attr("text-anchor", o.anchor||"start").attr("font-weight", o.weight||"normal").attr("font-style", o.style||"normal")
    .style("white-space","pre");
  if (o.len) t.attr("textLength", o.len).attr("lengthAdjust","spacingAndGlyphs");
  return t;
};
T(452, 64, "UNEMPLOYMENT INDICATORS", {family: SERIF, size: 35, weight: "bold", style: "italic", fill: "#f47c7c", anchor: "middle", len: 510});
T(450, 93, "Prepared by", {size: 10, fill: "#2b8fd4", anchor: "middle"});
T(444, 112, "SECURITIES RESEARCH COMPANY", {size: 16.5, fill: "#1a8fd0", anchor: "middle", len: 283});
T(450, 131, "WWW.SRCSTOCKCHARTS.COM", {size: 10, weight: "bold", fill: "#111", anchor: "middle", len: 152});
const disc = [
 ["The SRC Interest Rate Chart of Key Rates and Economic History is published periodically and copyrighted by Securities Research Company.  Reproduction of graphs, data,", 611],
 ["or other content, in whole or in part, without permission is forbidden.  Printed in U.S.A.  The graphs and other information appearing on this wall chart were derived from", 595],
 ["data provided by one or more third party information sources.  While these sources are generally reliable, Securities Research Company does not guarantee or warrant the", 605],
 ["accuracy, adequacy, or completeness of the contents of this wall chart.  Securities Research Company will not be liable for any loss or damages caused by reader's reliance", 610],
 ["on the content of this wall chart, which is for informational and educational purposes only, and should not be considered investment advice.", 493],
 ["Copyright 2007 \u2013 Securities Research Company.", 172]
];
const discY = [148,157,166,176,185,195];
disc.forEach(([s,len],i)=>T(138, discY[i], s, {size: 8.5, fill: "#222", len}));

// legend box
const lb = {x: 2012, y: 1622, w: 441, h: 230};
ov.append("rect").attr("x",lb.x+8).attr("y",lb.y+8).attr("width",lb.w).attr("height",lb.h).attr("fill","#000");
ov.append("rect").attr("x",lb.x).attr("y",lb.y).attr("width",lb.w).attr("height",lb.h).attr("fill","#fff").attr("stroke","#f08080").attr("stroke-width",2);
T(2021, 1642, "LEGEND", {size: 19, fill: "#111"});
T(2025, 1673, "Right/Left Scale Monthly Values", {family: SERIF, size: 19, fill: "#111"});
T(2029, 1693, "Vertical Shadings indicate Recession/Depression", {family: SERIF, size: 19, fill: "#111"});
const legendRows = [["UNEMPLOY","#1f4e8c","#3c6ea8"],["UEMPMEAN","#ff2020","#ff2020"],["UNRATE","#1e8c1e","#1e8c1e"],["ECIWAG","#8b1a1a","#8b0000"],["SPX","#111",null]];
const rowY = [1715,1736,1757,1778,1798];
legendRows.forEach(([name,col,lc],i)=>{
  T(2022, rowY[i], "Value", {family: SERIF, size: 19, fill: col});
  T(2075, rowY[i], name, {family: SERIF, size: 19, fill: col});
  if (lc) ov.append("line").attr("x1",2239).attr("x2",2287).attr("y1",rowY[i]-6).attr("y2",rowY[i]-6).attr("stroke",lc).attr("stroke-width",1.6);
});
for (let k=0;k<11;k++){
  const x = 2240 + k*4.9;
  ov.append("line").attr("x1",x).attr("x2",x).attr("y1",1788).attr("y2",1802).attr("stroke","#111").attr("stroke-width",1.2);
}
ov.append("line").attr("x1",2238).attr("x2",2290).attr("y1",1794).attr("y2",1794).attr("stroke","#111").attr("stroke-width",0.8);
T(2028, 1825, "Securities Research Company  www.srcstockcharts.com", {family: SERIF, size: 19, fill: "#1a8fd0"});
</script></body></html>
